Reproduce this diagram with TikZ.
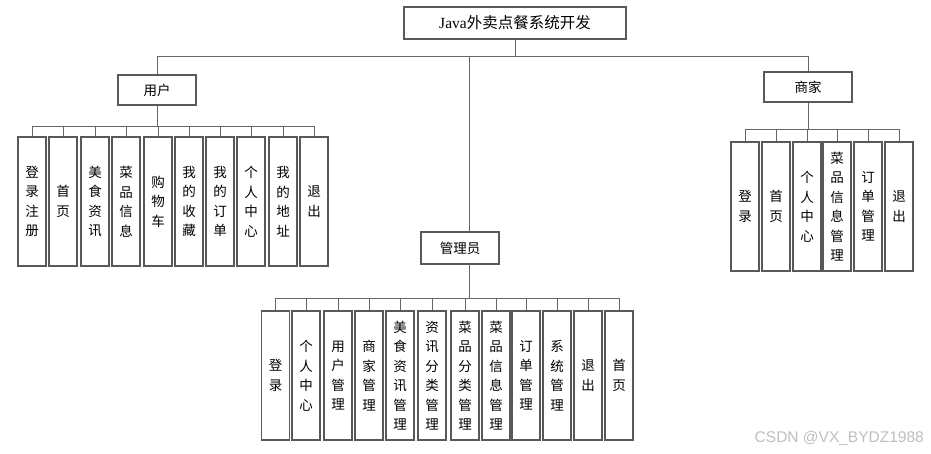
\documentclass[tikz,border=0pt]{standalone}
\usepackage{fontspec}
\setmainfont{Liberation Serif}
\newfontfamily\cjk{Noto Sans CJK SC}
\newfontfamily\wmfont{Liberation Sans}
\begin{document}
\begin{tikzpicture}[x=1pt,y=-1pt,
  box/.style={draw=black!65,line width=1.1pt,fill=white,inner sep=0pt,font=\cjk\fontsize{13.5}{19.5}\selectfont,align=center},
  headbox/.style={box,minimum width=78pt,minimum height=30pt},
  leafbox/.style={box,minimum width=28pt,minimum height=129pt},
  link/.style={draw=black!60,line width=0.9pt}]
\useasboundingbox (0,0) rectangle (931,453);
% root
\node[box,minimum width=222pt,minimum height=32pt,font=\fontsize{15.5}{17}\selectfont] (root) at (515,23) {Java{\cjk 外卖点餐系统开发}};
\node[headbox] (user) at (157,90) {用户};
\node[headbox,minimum width=88pt] (merch) at (808,87) {商家};
\node[headbox,minimum height=32pt] (admin) at (460,248) {管理员};
\coordinate (topbus) at (0,56);
\draw[link] (root.south) -- (root.south|-topbus);
\draw[link] (user.north|-topbus) -- (merch.north|-topbus);
\draw[link] (user.north|-topbus) -- (user.north);
\draw[link] (merch.north|-topbus) -- (merch.north);
\draw[link] (469,56) coordinate (adtop) -- (adtop|-admin.north);
% user children
\foreach \n/\x/\t in {1/32/登\\录\\注\\册,2/63/首\\页,3/95/美\\食\\资\\讯,4/126/菜\\品\\信\\息,5/158/购\\物\\车,6/189/我\\的\\收\\藏,7/220/我\\的\\订\\单,8/251/个\\人\\中\\心,9/283/我\\的\\地\\址,10/314/退\\出}
  \node[leafbox] (u\n) at (\x,201.5) {\t};
\coordinate (ubus) at (0,126);
\draw[link] (user.south) -- (user.south|-ubus);
\draw[link] (u1.north|-ubus) -- (u10.north|-ubus);
\foreach \n in {1,...,10} \draw[link] (u\n.north|-ubus) -- (u\n.north);
% merchant children
\foreach \n/\x/\t in {1/745/登\\录,2/776/首\\页,3/807/个\\人\\中\\心,4/837/菜\\品\\信\\息\\管\\理,5/868/订\\单\\管\\理,6/899/退\\出}
  \node[leafbox] (m\n) at (\x,206.5) {\t};
\coordinate (mbus) at (0,129);
\draw[link] (merch.south) -- (merch.south|-mbus);
\draw[link] (m1.north|-mbus) -- (m6.north|-mbus);
\foreach \n in {1,...,6} \draw[link] (m\n.north|-mbus) -- (m\n.north);
% admin children
\foreach \n/\x/\t in {1/275.5/登\\录,2/306/个\\人\\中\\心,3/338/用\\户\\管\\理,4/369/商\\家\\管\\理,5/400/美\\食\\资\\讯\\管\\理,6/432/资\\讯\\分\\类\\管\\理,7/465/菜\\品\\分\\类\\管\\理,8/496/菜\\品\\信\\息\\管\\理,9/526/订\\单\\管\\理,10/557/系\\统\\管\\理,11/588/退\\出,12/619/首\\页}
  \node[leafbox] (a\n) at (\x,375.5) {\t};
\coordinate (abus) at (0,298);
\draw[link] (469,264) coordinate (adbot) -- (adbot|-abus);
\draw[link] (a1.north|-abus) -- (a12.north|-abus);
\foreach \n in {1,...,12} \draw[link] (a\n.north|-abus) -- (a\n.north);
% watermark
\node[font=\wmfont\fontsize{15.5}{17}\selectfont,text=black!25,anchor=east,inner sep=0pt] (wm) at (924,438) {CSDN @VX\_BYDZ1988};
\end{tikzpicture}
\end{document}
